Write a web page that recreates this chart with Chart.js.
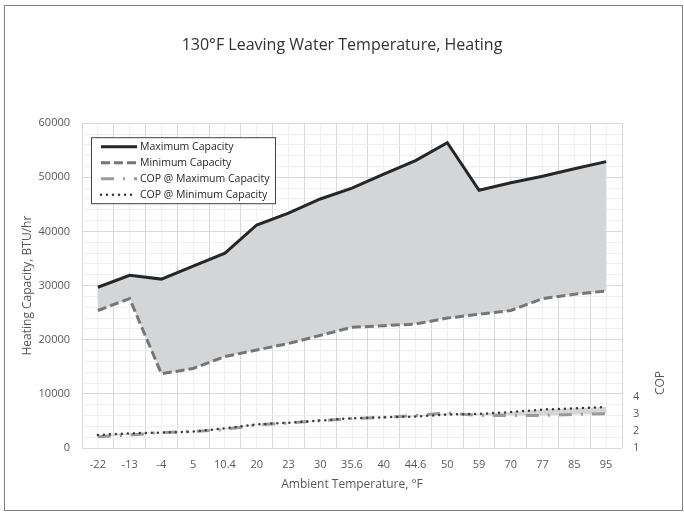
<!DOCTYPE html>
<html>
<head>
<meta charset="utf-8">
<script src="https://cdn.jsdelivr.net/npm/chart.js@4/dist/chart.umd.min.js"></script>
<style>
  html, body { margin: 0; padding: 0; background: #fff; }
  #wrap { width: 684px; height: 512px; }
</style>
</head>
<body>
<div id="wrap"><canvas id="chart" width="684" height="512"></canvas></div>
<script>
// values
const temps = ['-22', '-13', '-4', '5', '10.4', '20', '23', '30', '35.6', '40', '44.6', '50', '59', '70', '77', '85', '95'];
const maxCapacity = [29700, 31900, 31200, 33600, 36000, 41200, 43400, 46000, 48000, 50600, 53100, 56400, 47600, 49000, 50200, 51600, 52900];
const minCapacity = [25400, 27600, 13700, 14700, 16900, 18100, 19300, 20800, 22300, 22600, 22900, 24000, 24700, 25400, 27600, 28400, 29000];
const copAtMax = [1.66, 1.76, 1.9, 1.96, 2.08, 2.35, 2.46, 2.6, 2.72, 2.8, 2.9, 3.05, 2.9, 2.9, 2.9, 2.96, 3.0];
const copAtMin = [1.76, 1.86, 1.9, 1.96, 2.15, 2.38, 2.48, 2.61, 2.74, 2.8, 2.84, 2.96, 3.0, 3.1, 3.25, 3.32, 3.4];
const capTicks = [0, 10000, 20000, 30000, 40000, 50000, 60000];
const copTicks = [1, 2, 3, 4];

Chart.defaults.font.family = '"Open Sans", sans-serif';
const textGrey = '#595959';
const bandFill = '#d4d5d7';

// legend box drawn inside the plot, like the spreadsheet one
const boxLegend = {
  id: 'boxLegend',
  afterDatasetsDraw(chart) {
    const {ctx, chartArea} = chart;
    const x = chartArea.left + 9, y = chartArea.top + 14;
    const w = 184, h = 66;
    ctx.save();
    ctx.fillStyle = '#fff';
    ctx.fillRect(x, y, w, h);
    ctx.strokeStyle = '#404040';
    ctx.lineWidth = 1;
    ctx.strokeRect(x + 0.5, y + 0.5, w, h);
    ctx.font = '10.5px "Open Sans", sans-serif';
    ctx.textBaseline = 'middle';
    chart.data.datasets.forEach((ds, i) => {
      const ry = y + 9.5 + i * 16;
      ctx.beginPath();
      ctx.setLineDash(ds.borderDash || []);
      ctx.lineCap = ds.borderCapStyle || 'butt';
      ctx.lineWidth = ds.borderWidth;
      ctx.strokeStyle = ds.borderColor;
      ctx.moveTo(x + 10, ry);
      ctx.lineTo(x + 46, ry);
      ctx.stroke();
      ctx.setLineDash([]);
      ctx.fillStyle = '#262626';
      ctx.fillText(ds.label, x + 49, ry);
    });
    ctx.restore();
  }
};

// outer frame + COP title placed low on the right axis
const extras = {
  id: 'extras',
  afterDraw(chart) {
    const {ctx} = chart;
    ctx.save();
    ctx.strokeStyle = '#808080';
    ctx.lineWidth = 1;
    ctx.strokeRect(4.5, 5.5, 678, 505);
    const yCop = chart.scales.y2.getPixelForValue(4.8);
    ctx.translate(661, yCop);
    ctx.rotate(-Math.PI / 2);
    ctx.font = '12px "Open Sans", sans-serif';
    ctx.fillStyle = textGrey;
    ctx.textAlign = 'center';
    ctx.textBaseline = 'middle';
    ctx.fillText('COP', 0, 0);
    ctx.restore();
  }
};

new Chart(document.getElementById('chart'), {
  type: 'line',
  data: {
    labels: temps,
    datasets: [
      {
        label: 'Maximum Capacity',
        data: maxCapacity,
        xAxisID: 'x', yAxisID: 'y',
        borderColor: '#262626',
        borderWidth: 3,
        pointRadius: 0,
        fill: '+1',
        backgroundColor: bandFill,
        order: 0
      },
      {
        label: 'Minimum Capacity',
        data: minCapacity,
        xAxisID: 'x', yAxisID: 'y',
        borderColor: '#767676',
        borderWidth: 3,
        borderDash: [9, 4],
        pointRadius: 0,
        fill: false,
        order: 1
      },
      {
        label: 'COP @ Maximum Capacity',
        data: copAtMax,
        xAxisID: 'x', yAxisID: 'y2',
        borderColor: '#9a9a9a',
        borderWidth: 3,
        borderDash: [13, 9, 2, 9],
        pointRadius: 0,
        fill: '+1',
        backgroundColor: bandFill,
        order: 3
      },
      {
        label: 'COP @ Minimum Capacity',
        data: copAtMin,
        xAxisID: 'x', yAxisID: 'y2',
        borderColor: '#3a3a3a',
        borderWidth: 2.5,
        borderDash: [0, 6],
        borderCapStyle: 'round',
        pointRadius: 0,
        fill: false,
        order: 2
      }
    ]
  },
  options: {
    responsive: false,
    animation: false,
    devicePixelRatio: 1,
    layout: { padding: 0 },
    elements: { line: { tension: 0 } },
    plugins: {
      legend: { display: false },
      tooltip: { enabled: false },
      filler: { drawTime: 'beforeDatasetsDraw' },
      title: {
        display: true,
        text: '130°F Leaving Water Temperature, Heating',
        color: '#333333',
        font: { size: 16, weight: 'normal' },
        padding: { top: 36, bottom: 68 }
      }
    },
    scales: {
      x: {
        type: 'category',
        position: 'bottom',
        offset: true,
        grid: { display: false, drawTicks: false },
        border: { display: false },
        ticks: { color: textGrey, font: { size: 11 }, padding: 10, autoSkip: false, maxRotation: 0 },
        title: { display: true, text: 'Ambient Temperature, °F', color: textGrey, font: { size: 12 }, padding: { bottom: 20 } },
        afterFit: s => { s.height = 64; }
      },
      // linear helper axis only for the major/minor vertical grid
      xg: {
        type: 'linear',
        position: 'bottom',
        min: 0, max: 34,
        ticks: { display: false, stepSize: 1, autoSkip: false },
        grid: { drawTicks: false, color: c => c.tick.value % 2 === 0 ? '#d9d9d9' : '#eeeeee' },
        border: { display: false },
        afterFit: s => { s.height = 0; }
      },
      y: {
        position: 'left',
        min: 0, max: 60000,
        ticks: {
          stepSize: 2000, autoSkip: false, color: textGrey, font: { size: 11 }, padding: 12,
          callback: v => capTicks.includes(v) ? String(v) : ''
        },
        grid: { drawTicks: false, color: c => c.tick.value % 10000 === 0 ? '#d9d9d9' : '#eeeeee' },
        border: { display: false },
        title: { display: true, text: 'Heating Capacity, BTU/hr', color: textGrey, font: { size: 12 }, padding: { top: 20 } },
        afterFit: s => { s.width = 82; }
      },
      y2: {
        position: 'right',
        min: 1, max: 20,
        ticks: {
          stepSize: 1, autoSkip: false, color: textGrey, font: { size: 11 }, padding: 11,
          callback: v => copTicks.includes(v) ? String(v) : ''
        },
        grid: { display: false, drawTicks: false },
        border: { display: false },
        afterFit: s => { s.width = 62; }
      }
    }
  },
  plugins: [boxLegend, extras]
});
</script>
</body>
</html>
